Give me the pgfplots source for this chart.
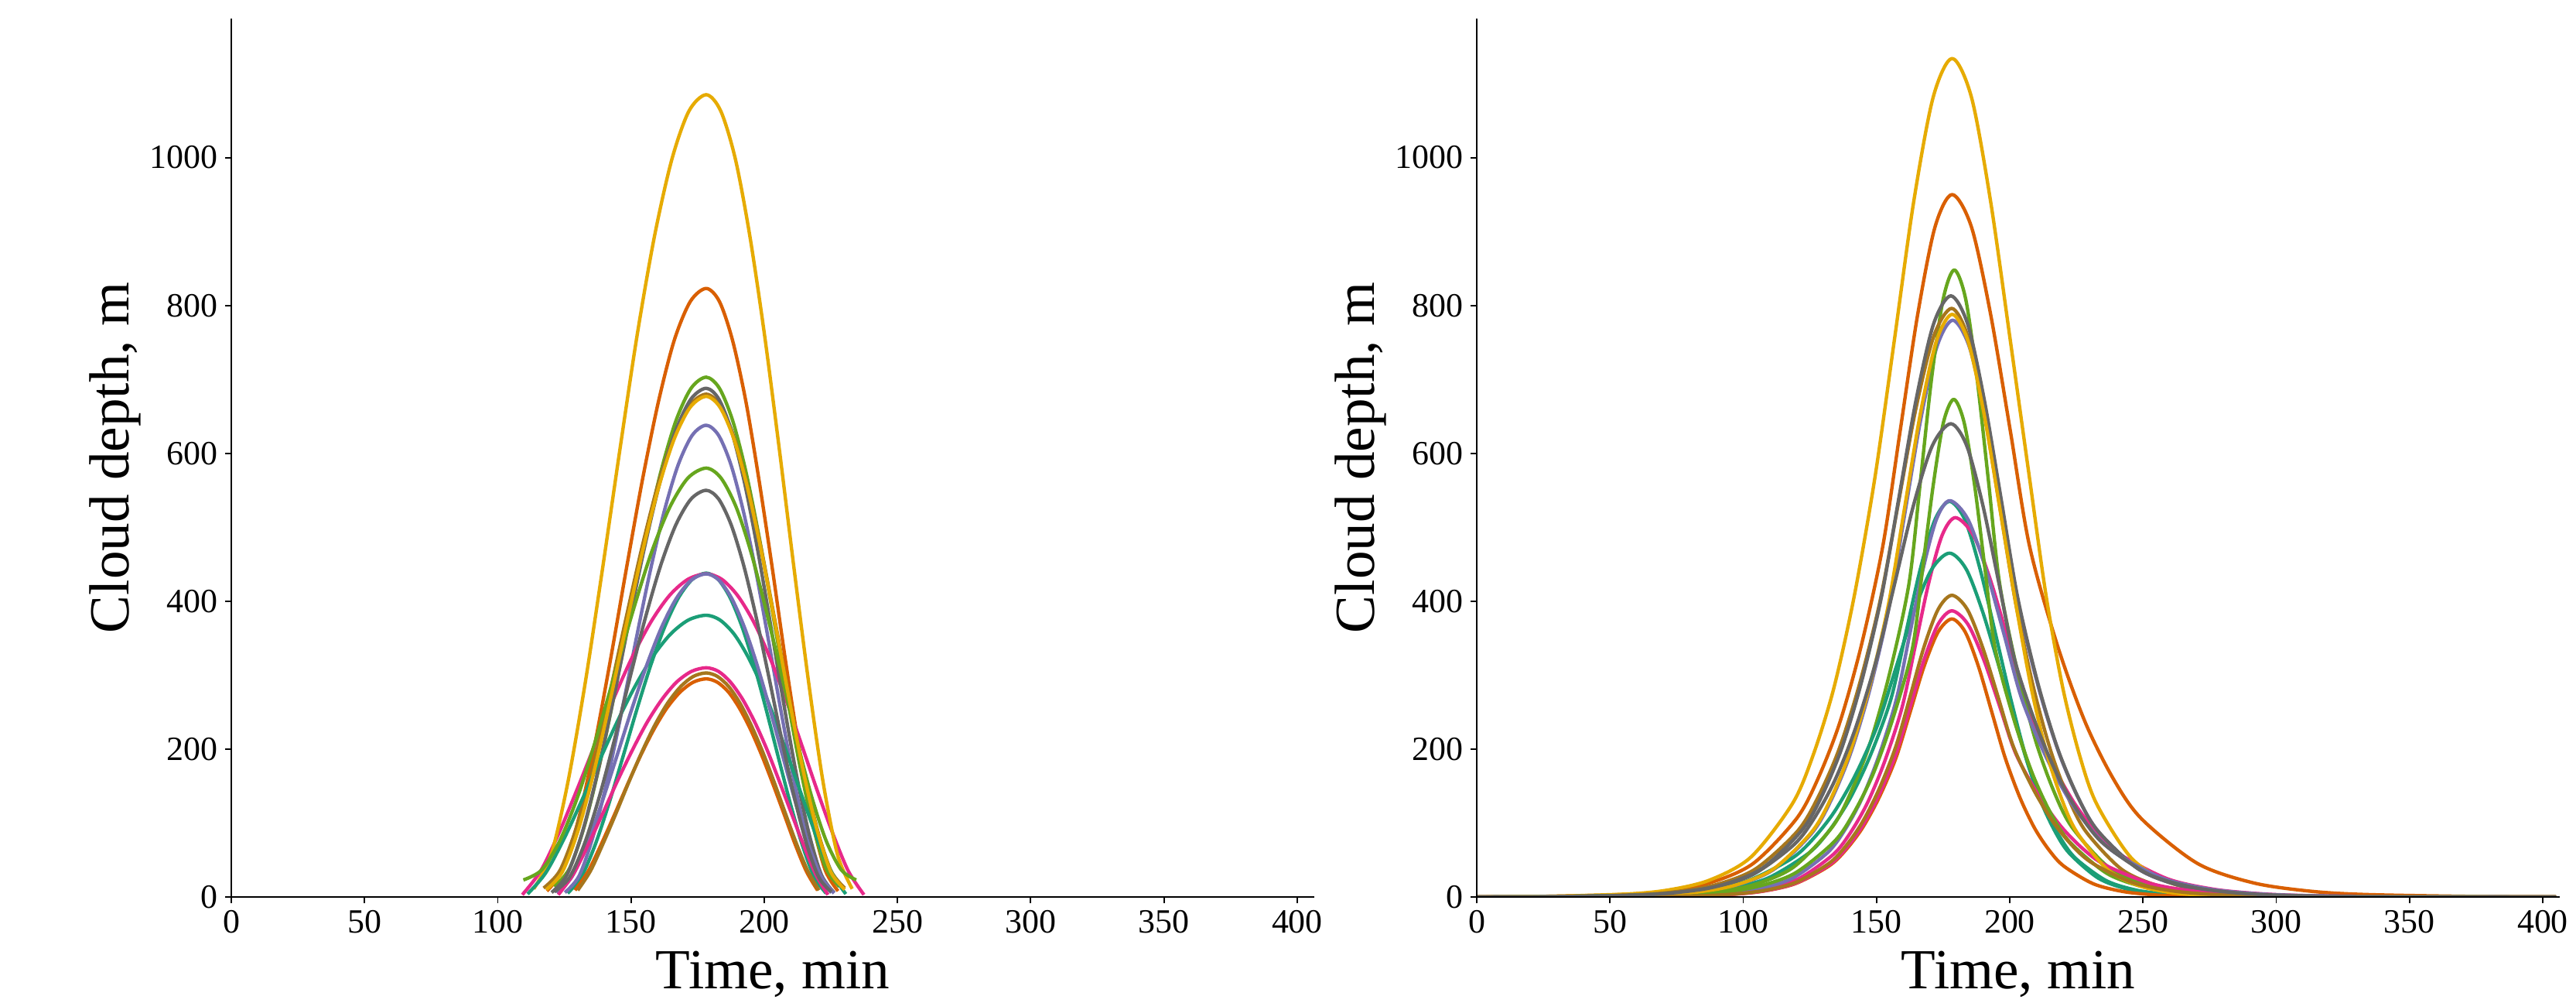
\documentclass[border=0pt]{standalone}
\usepackage{fontspec}
\setmainfont{Liberation Serif}
\usepackage{pgfplots}
\pgfplotsset{compat=1.18}

% Dark2 palette
\definecolor{dteal}{RGB}{27,158,119}
\definecolor{dorange}{RGB}{217,95,2}
\definecolor{dpurple}{RGB}{117,112,179}
\definecolor{dpink}{RGB}{231,41,138}
\definecolor{dgreen}{RGB}{102,166,30}
\definecolor{dyellow}{RGB}{230,171,2}
\definecolor{dbrown}{RGB}{166,118,29}
\definecolor{dgray}{RGB}{102,102,102}

\pgfplotsset{
  cd/.style={
    width=574pt, height=465.35pt, scale only axis,
    xmin=0, xmax=406.4, ymin=0, ymax=1188,
    axis x line*=bottom, axis y line*=left,
    xtick={0,50,...,400}, ytick={0,200,...,1000},
    tick align=outside, major tick length=3.3pt,
    tick style={line width=0.8pt, black},
    axis line style={line width=0.8pt, black},
    every tick label/.append style={font=\fontsize{18}{20}\selectfont, inner sep=3.6pt},
    /pgf/number format/assume math mode=true,
    /pgf/number format/1000 sep={},
    xlabel={Time, min}, ylabel={Cloud depth, m},
    label style={font=\fontsize{30}{34}\selectfont},
    xlabel style={at={(axis description cs:0.5,-0.104)}, anchor=base},
    ylabel style={at={(axis description cs:-0.0943,0.5)}, anchor=base, rotate=0},
    every axis plot/.append style={line width=1.8pt, smooth, no marks, line join=round},
    axis on top,
  }
}

\begin{document}
\begin{tikzpicture}
\path[use as bounding box] (-122.59pt,-56.17pt) rectangle (1242.71pt,475.19pt);

% ---------------- left panel ----------------
\begin{axis}[cd, at={(0pt,0pt)}, anchor=south west]
\addplot[dteal] coordinates {(126.2,5) (131.4,27.3) (136.6,71.1) (141.8,127.4) (147.0,190.0) (152.2,253.7) (157.4,313.4) (162.6,365.0) (167.8,404.6) (173.0,429.5) (178.2,438) (182.7,429.5) (187.2,404.6) (191.7,365.0) (196.2,313.4) (200.7,253.7) (205.2,190.0) (209.7,127.4) (214.2,71.1) (218.7,27.3) (223.2,5)};
\addplot[dorange] coordinates {(118.4,8) (124.4,36.9) (130.4,106.5) (136.3,204.7) (142.3,321.1) (148.3,444.8) (154.3,564.5) (160.3,670.1) (166.2,752.7) (172.2,805.1) (178.2,823) (183.2,805.1) (188.1,752.7) (193.1,670.1) (198.0,564.5) (203.0,444.8) (207.9,321.1) (212.9,204.7) (217.8,106.5) (222.8,36.9) (227.7,8)};
\addplot[dpurple] coordinates {(125.2,6) (130.5,28.4) (135.8,82.3) (141.1,158.5) (146.4,248.8) (151.7,344.7) (157.0,437.5) (162.3,519.4) (167.6,583.5) (172.9,624.1) (178.2,638) (182.9,624.1) (187.6,583.5) (192.3,519.4) (197.0,437.5) (201.7,344.7) (206.4,248.8) (211.1,158.5) (215.8,82.3) (220.5,28.4) (225.2,6)};
\addplot[dpink] coordinates {(109.2,3) (116.1,35.3) (123.0,86.8) (129.9,146.7) (136.8,209.2) (143.7,270.2) (150.6,325.5) (157.5,372.2) (164.4,407.6) (171.3,429.5) (178.2,437) (184.1,429.5) (190.0,407.6) (196.0,372.2) (201.9,325.5) (207.8,270.2) (213.7,209.2) (219.6,146.7) (225.6,86.8) (231.5,35.3) (237.4,3)};
\addplot[dgreen] coordinates {(121.2,14) (126.9,38.5) (132.6,97.2) (138.3,180.3) (144.0,278.7) (149.7,383.2) (155.4,484.4) (161.1,573.7) (166.8,643.5) (172.5,687.8) (178.2,703) (183.2,687.8) (188.2,643.5) (193.2,573.7) (198.2,484.4) (203.2,383.2) (208.2,278.7) (213.2,180.3) (218.2,97.2) (223.2,38.5) (228.2,14)};
\addplot[dyellow] coordinates {(113.5,11) (120.0,56.9) (126.4,156.8) (132.9,291.5) (139.4,446.2) (145.9,606.9) (152.3,760.0) (158.8,893.6) (165.3,997.3) (171.7,1062.7) (178.2,1085) (183.7,1062.7) (189.2,997.3) (194.6,893.6) (200.1,760.0) (205.6,606.9) (211.1,446.2) (216.6,291.5) (222.0,156.8) (227.5,56.9) (233.0,11)};
\addplot[dbrown] coordinates {(117.2,12) (123.3,35.7) (129.4,92.7) (135.5,173.2) (141.6,268.6) (147.7,370.0) (153.8,468.1) (159.9,554.7) (166.0,622.4) (172.1,665.3) (178.2,680) (183.4,665.3) (188.6,622.4) (193.8,554.7) (199.0,468.1) (204.2,370.0) (209.4,268.6) (214.6,173.2) (219.8,92.7) (225.0,35.7) (230.2,12)};
\addplot[dgray] coordinates {(120.2,6) (126.0,30.2) (131.8,88.4) (137.6,170.6) (143.4,268.0) (149.2,371.5) (155.0,471.7) (160.8,560.1) (166.6,629.1) (172.4,673.0) (178.2,688) (183.0,673.0) (187.8,629.1) (192.6,560.1) (197.4,471.7) (202.2,371.5) (207.0,268.0) (211.8,170.6) (216.6,88.4) (221.4,30.2) (226.2,6)};
\addplot[dteal] coordinates {(111.2,4) (117.9,32.1) (124.6,76.8) (131.3,128.8) (138.0,183.2) (144.7,236.1) (151.4,284.2) (158.1,324.8) (164.8,355.4) (171.5,374.5) (178.2,381) (183.4,374.5) (188.7,355.4) (193.9,324.8) (199.2,284.2) (204.4,236.1) (209.6,183.2) (214.9,128.8) (220.1,76.8) (225.4,32.1) (230.6,4)};
\addplot[dorange] coordinates {(129.0,9) (133.9,34.6) (138.8,71.1) (143.8,111.4) (148.7,152.3) (153.6,191.2) (158.5,226.1) (163.4,255.2) (168.4,277.0) (173.3,290.4) (178.2,295) (182.4,290.4) (186.6,277.0) (190.7,255.2) (194.9,226.1) (199.1,191.2) (203.3,152.3) (207.5,111.4) (211.6,71.1) (215.8,34.6) (220.0,9)};
\addplot[dpurple] coordinates {(122.2,5) (127.8,27.2) (133.4,71.0) (139.0,127.1) (144.6,189.6) (150.2,253.1) (155.8,312.7) (161.4,364.2) (167.0,403.7) (172.6,428.5) (178.2,437) (183.0,428.5) (187.8,403.7) (192.6,364.2) (197.4,312.7) (202.2,253.1) (207.0,189.6) (211.8,127.1) (216.6,71.0) (221.4,27.2) (226.2,5)};
\addplot[dpink] coordinates {(122.7,3) (128.3,30.5) (133.8,69.7) (139.4,113.0) (144.9,156.9) (150.5,198.6) (156.0,236.0) (161.6,267.2) (167.1,290.6) (172.7,305.1) (178.2,310) (182.8,305.1) (187.3,290.6) (191.9,267.2) (196.5,236.0) (201.1,198.6) (205.6,156.9) (210.2,113.0) (214.8,69.7) (219.3,30.5) (223.9,3)};
\addplot[dgreen] coordinates {(109.6,23) (116.5,36.6) (123.3,76.2) (130.2,137.8) (137.0,215.4) (143.9,301.5) (150.8,387.6) (157.6,465.2) (164.5,526.8) (171.3,566.4) (178.2,580) (183.8,566.4) (189.5,526.8) (195.1,465.2) (200.7,387.6) (206.4,301.5) (212.0,215.4) (217.6,137.8) (223.2,76.2) (228.9,36.6) (234.5,23)};
\addplot[dyellow] coordinates {(118.2,10) (124.2,33.7) (130.2,90.6) (136.2,170.9) (142.2,266.3) (148.2,367.4) (154.2,465.4) (160.2,551.9) (166.2,619.4) (172.2,662.3) (178.2,677) (183.4,662.3) (188.6,619.4) (193.8,551.9) (199.0,465.4) (204.2,367.4) (209.4,266.3) (214.6,170.9) (219.8,90.6) (225.0,33.7) (230.2,10)};
\addplot[dbrown] coordinates {(130.0,9) (134.8,35.3) (139.6,72.9) (144.5,114.3) (149.3,156.4) (154.1,196.3) (158.9,232.2) (163.7,262.0) (168.6,284.4) (173.4,298.3) (178.2,303) (182.4,298.3) (186.7,284.4) (190.9,262.0) (195.1,232.2) (199.4,196.3) (203.6,156.4) (207.8,114.3) (212.0,72.9) (216.3,35.3) (220.5,9)};
\addplot[dgray] coordinates {(121.2,7) (126.9,26.3) (132.6,72.6) (138.3,138.0) (144.0,215.6) (149.7,298.0) (155.4,377.8) (161.1,448.1) (166.8,503.1) (172.5,538.1) (178.2,550) (182.9,538.1) (187.6,503.1) (192.3,448.1) (197.0,377.8) (201.7,298.0) (206.4,215.6) (211.1,138.0) (215.8,72.6) (220.5,26.3) (225.2,7)};
\end{axis}

% ---------------- right panel ----------------
\begin{axis}[cd, at={(660.1pt,0pt)}, anchor=south west]
\addplot[dteal] coordinates {(0,0) (32.2,0.3) (63.0,1.9) (78.4,4.4) (93.8,10.7) (109.2,25.5) (124.6,59.4) (132.3,89.9) (140.0,132.7) (147.7,191.5) (155.4,267.5) (160.9,355.2) (166.4,443.0) (171.9,509.9) (177.4,535) (183.2,509.9) (188.9,443.0) (194.7,355.2) (200.4,267.5) (205.9,191.5) (211.3,132.7) (216.8,89.9) (222.3,59.4) (233.2,25.5) (244.1,10.7) (255.0,4.4) (266.0,1.9) (287.8,0.3) (405,0)};
\addplot[dorange] coordinates {(0,0) (22.4,0.6) (54.9,3.3) (71.2,7.9) (87.4,19.0) (103.7,45.2) (119.9,105.5) (128.0,159.6) (136.2,235.6) (144.3,340.1) (152.4,475) (158.9,630.8) (165.4,786.6) (171.9,905.4) (178.4,950) (185.7,905.4) (192.9,786.6) (200.2,630.8) (207.4,475) (217.9,340.1) (228.4,235.6) (238.9,159.6) (249.5,105.5) (270.5,45.2) (291.5,19.0) (312.5,7.9) (333.6,3.3) (375.6,0.6) (405,0)};
\addplot[dpurple] coordinates {(0,0) (39.4,0.5) (68.2,2.7) (82.6,6.5) (97.0,15.6) (111.4,37.1) (125.8,86.6) (133.0,131.0) (140.2,193.4) (147.4,279.2) (154.6,390) (160.6,517.9) (166.6,645.8) (172.6,743.3) (178.6,780) (184.9,743.3) (191.1,645.8) (197.4,517.9) (203.6,390) (211.1,279.2) (218.6,193.4) (226.1,131.0) (233.6,86.6) (248.6,37.1) (263.6,15.6) (278.6,6.5) (293.6,2.7) (323.6,0.5) (405,0)};
\addplot[dpink] coordinates {(0,0) (55.6,0.3) (81.6,1.8) (94.6,4.3) (107.6,10.3) (120.6,24.4) (133.6,56.9) (140.1,86.2) (146.6,127.2) (153.1,183.7) (159.6,256.5) (164.6,340.6) (169.6,424.8) (174.6,488.9) (179.6,513) (186.4,488.9) (193.1,424.8) (199.9,340.6) (206.6,256.5) (215.4,183.7) (224.2,127.2) (232.9,86.2) (241.7,56.9) (259.3,24.4) (276.8,10.3) (294.4,4.3) (311.9,1.8) (347.0,0.3) (405,0)};
\addplot[dgreen] coordinates {(0,0) (46.6,0.5) (75.5,3.0) (90.0,7.0) (104.4,17.0) (118.9,40.4) (133.3,94.1) (140.5,142.5) (147.8,210.3) (155.0,303.6) (162.2,424) (166.5,563.1) (170.7,702.1) (175.0,808.1) (179.2,848) (183.5,808.1) (187.7,702.1) (192.0,563.1) (196.2,424) (203.0,303.6) (209.8,210.3) (216.6,142.5) (223.4,94.1) (237.0,40.4) (250.6,17.0) (264.2,7.0) (277.8,3.0) (305.0,0.5) (405,0)};
\addplot[dyellow] coordinates {(0,0) (25.3,0.7) (56.3,4.0) (71.8,9.4) (87.3,22.7) (102.9,54.0) (118.4,125.9) (126.1,190.5) (133.9,281.2) (141.6,406.0) (149.4,567.0) (156.7,753.0) (163.9,938.9) (171.2,1080.7) (178.4,1134) (185.7,1080.7) (192.9,938.9) (200.2,753.0) (207.4,567.0) (213.7,406.0) (220.0,281.2) (226.3,190.5) (232.6,125.9) (245.3,54.0) (257.9,22.7) (270.5,9.4) (283.1,4.0) (308.3,0.7) (405,0)};
\addplot[dbrown] coordinates {(0,0) (27.0,0.5) (58.1,2.8) (73.6,6.6) (89.1,15.9) (104.6,37.9) (120.2,88.4) (127.9,133.7) (135.7,197.4) (143.4,285.0) (151.2,398) (158.0,528.5) (164.7,659.1) (171.5,758.6) (178.2,796) (184.2,758.6) (190.2,659.1) (196.2,528.5) (202.2,398) (208.8,285.0) (215.4,197.4) (222.0,133.7) (228.6,88.4) (241.8,37.9) (255.0,15.9) (268.2,6.6) (281.4,2.8) (307.8,0.5) (405,0)};
\addplot[dgray] coordinates {(0,0) (32.3,0.5) (62.2,2.8) (77.2,6.7) (92.1,16.3) (107.1,38.7) (122.0,90.2) (129.5,136.6) (137.0,201.6) (144.4,291.1) (151.9,406.5) (158.4,539.8) (164.9,673.2) (171.4,774.8) (177.9,813) (184.2,774.8) (190.4,673.2) (196.7,539.8) (202.9,406.5) (210.4,291.1) (217.9,201.6) (225.4,136.6) (232.9,90.2) (247.9,38.7) (262.9,16.3) (277.9,6.7) (292.9,2.8) (322.9,0.5) (405,0)};
\addplot[dteal] coordinates {(0,0) (20.8,0.3) (53.2,1.6) (69.4,3.9) (85.6,9.3) (101.8,22.1) (118.0,51.6) (126.1,78.1) (134.2,115.3) (142.3,166.5) (150.4,232.5) (157.2,308.8) (163.9,385.0) (170.7,443.1) (177.4,465) (183.7,443.1) (189.9,385.0) (196.2,308.8) (202.4,232.5) (208.0,166.5) (213.7,115.3) (219.3,78.1) (224.9,51.6) (236.2,22.1) (247.4,9.3) (258.7,3.9) (269.9,1.6) (292.4,0.3) (405,0)};
\addplot[dorange] coordinates {(0,0) (56.5,0.2) (81.7,1.3) (94.3,3.1) (106.9,7.5) (119.5,17.9) (132.1,41.7) (138.4,63.2) (144.7,93.2) (151.0,134.6) (157.3,188) (162.6,249.7) (167.8,311.3) (173.1,358.3) (178.3,376) (183.3,358.3) (188.3,311.3) (193.3,249.7) (198.3,188) (203.8,134.6) (209.3,93.2) (214.8,63.2) (220.3,41.7) (231.3,17.9) (242.3,7.5) (253.3,3.1) (264.3,1.3) (286.3,0.2) (405,0)};
\addplot[dpurple] coordinates {(0,0) (53.5,0.3) (79.5,1.9) (92.5,4.4) (105.5,10.7) (118.5,25.5) (131.5,59.5) (138.0,90.0) (144.5,132.9) (151.0,191.9) (157.5,268) (162.5,355.9) (167.5,443.8) (172.5,510.8) (177.5,536) (184.3,510.8) (191.0,443.8) (197.8,355.9) (204.5,268) (213.3,191.9) (222.1,132.9) (230.8,90.0) (239.6,59.5) (257.2,25.5) (274.7,10.7) (292.3,4.4) (309.8,1.9) (344.9,0.3) (405,0)};
\addplot[dpink] coordinates {(0,0) (56.5,0.2) (81.7,1.4) (94.3,3.2) (106.9,7.7) (119.5,18.4) (132.1,43.0) (138.4,65.0) (144.7,96.0) (151.0,138.5) (157.3,193.5) (162.6,257.0) (167.8,320.4) (173.1,368.8) (178.3,387) (184.3,368.8) (190.3,320.4) (196.3,257.0) (202.3,193.5) (210.7,138.5) (219.1,96.0) (227.5,65.0) (235.9,43.0) (252.7,18.4) (269.5,7.7) (286.3,3.2) (303.1,1.4) (336.7,0.2) (405,0)};
\addplot[dgreen] coordinates {(0,0) (45.7,0.4) (75.2,2.4) (89.9,5.6) (104.6,13.5) (119.3,32.0) (134.1,74.7) (141.4,113.1) (148.8,166.9) (156.1,240.9) (163.5,336.5) (167.4,446.9) (171.3,557.2) (175.1,641.4) (179.0,673) (182.9,641.4) (186.8,557.2) (190.6,446.9) (194.5,336.5) (201.5,240.9) (208.5,166.9) (215.4,113.1) (222.4,74.7) (236.4,32.0) (250.3,13.5) (264.3,5.6) (278.2,2.4) (306.1,0.4) (405,0)};
\addplot[dyellow] coordinates {(0,0) (39.2,0.5) (68.0,2.8) (82.4,6.5) (96.8,15.8) (111.2,37.5) (125.6,87.5) (132.8,132.4) (140.0,195.4) (147.2,282.1) (154.4,394) (160.4,523.2) (166.4,652.5) (172.4,751.0) (178.4,788) (184.4,751.0) (190.4,652.5) (196.4,523.2) (202.4,394) (208.1,282.1) (213.8,195.4) (219.5,132.4) (225.2,87.5) (236.6,37.5) (248.0,15.8) (259.4,6.5) (270.8,2.8) (293.6,0.5) (405,0)};
\addplot[dbrown] coordinates {(0,0) (56.5,0.2) (81.7,1.4) (94.3,3.4) (106.9,8.2) (119.5,19.4) (132.1,45.3) (138.4,68.5) (144.7,101.2) (151.0,146.1) (157.3,204) (162.6,270.9) (167.8,337.8) (173.1,388.8) (178.3,408) (184.1,388.8) (189.8,337.8) (195.6,270.9) (201.3,204) (208.8,146.1) (216.3,101.2) (223.7,68.5) (231.2,45.3) (246.2,19.4) (261.1,8.2) (276.1,3.4) (291.0,1.4) (320.9,0.2) (405,0)};
\addplot[dgray] coordinates {(0,0) (26.7,0.4) (57.5,2.2) (72.9,5.3) (88.3,12.8) (103.7,30.5) (119.1,71.0) (126.8,107.5) (134.5,158.7) (142.2,229.1) (149.9,320) (156.9,425.0) (163.9,529.9) (170.9,609.9) (177.9,640) (183.9,609.9) (189.9,529.9) (195.9,425.0) (201.9,320) (210.3,229.1) (218.7,158.7) (227.1,107.5) (235.5,71.0) (252.3,30.5) (269.1,12.8) (285.9,5.3) (302.7,2.2) (336.3,0.4) (405,0)};
\end{axis}
\end{tikzpicture}
\end{document}
